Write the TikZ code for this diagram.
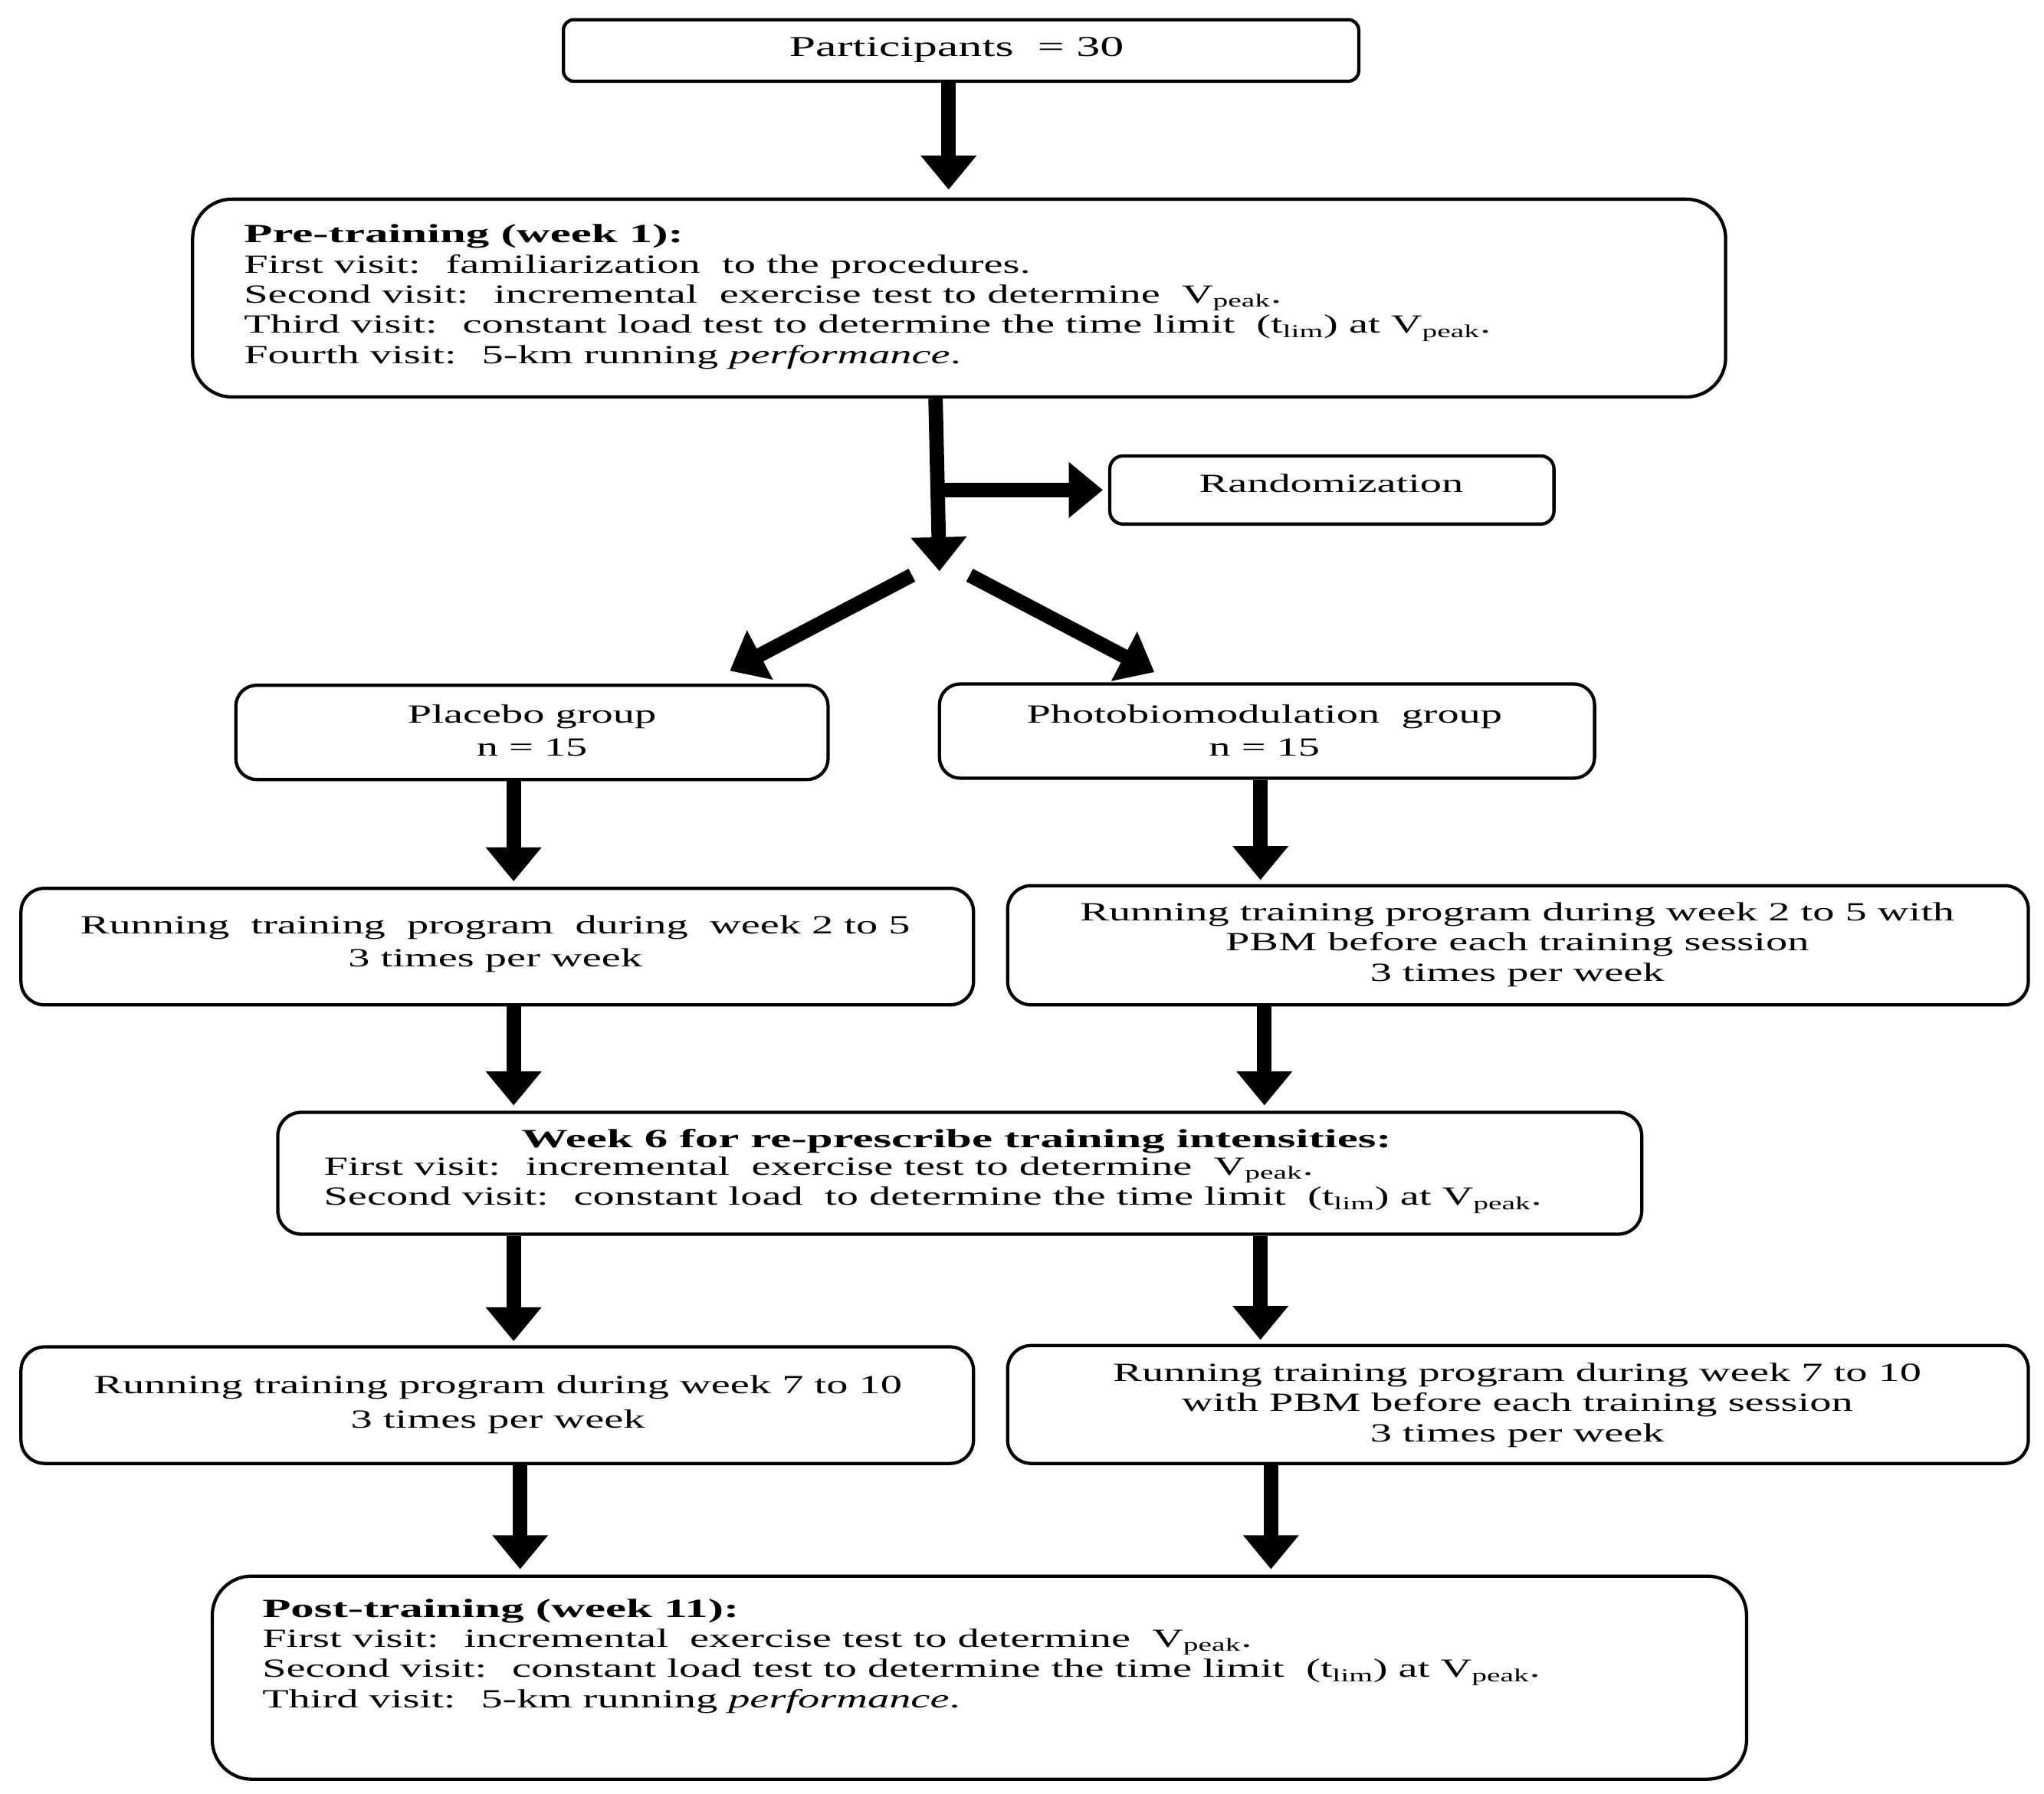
\documentclass[tikz,border=0pt]{standalone}
\usepackage{fontspec}
\setmainfont{Liberation Serif}[FakeStretch=1.65,BoldFeatures={FakeStretch=1.78}]
\usetikzlibrary{arrows.meta}
\tikzset{
  box/.style={draw, line width=2.5pt, rounded corners=#1, inner sep=0pt},
  box/.default=16pt,
  txt/.style={inner sep=0pt, font=\fontsize{20}{23}\selectfont},
  arr/.style={line width=11pt, -{Triangle[width=41pt,length=26pt]}},
}
\begin{document}
\begin{tikzpicture}[x=1pt,y=-1pt]
\useasboundingbox (0,0) rectangle (1560,1369);
% boxes
\node[box=8pt, minimum width=607pt, minimum height=47pt] (b1) at (733.5,38.5) {};
\node[box=30pt, minimum width=1170pt, minimum height=151pt] (b2) at (732,227.5) {};
\node[box=10pt, minimum width=339pt, minimum height=52pt] (rand) at (1016.5,374) {};
\node[box, minimum width=452pt, minimum height=72pt] (plac) at (406,559) {};
\node[box, minimum width=500pt, minimum height=72pt] (pbm) at (967,558) {};
\node[box=18pt, minimum width=727pt, minimum height=89pt] (r1l) at (379.5,722.5) {};
\node[box=18pt, minimum width=779pt, minimum height=91pt] (r1r) at (1158.5,721.5) {};
\node[box=18pt, minimum width=1041pt, minimum height=93pt] (w6) at (732.5,895.5) {};
\node[box=18pt, minimum width=727pt, minimum height=89pt] (r2l) at (379.5,1072.5) {};
\node[box=18pt, minimum width=779pt, minimum height=90pt] (r2r) at (1158.5,1072) {};
\node[box=30pt, minimum width=1171pt, minimum height=155pt] (post) at (747.5,1280.5) {};
% texts
\node[txt, font=\fontsize{22}{25}\selectfont] (t1) at (730,38) {Participants~ = 30};
\node[txt, anchor=west, align=left] (t2) at (186,226.5) {\textbf{Pre-training (week 1):}\\
First visit:~ familiarization~ to the procedures.\\
Second visit:~ incremental~ exercise test to determine~ V\textsubscript{peak}.\\
Third visit:~ constant load test to determine the time limit~ (t\textsubscript{lim}) at V\textsubscript{peak}.\\
Fourth visit:~ 5-km running \textit{performance}.};
\node[txt] (trand) at (1016,369) {Randomization};
\node[txt, align=center, font=\fontsize{20}{25}\selectfont] (tplac) at (406,557.5) {Placebo group\\ n = 15};
\node[txt, align=center, font=\fontsize{20}{25}\selectfont] (tpbm) at (965,557.5) {Photobiomodulation~ group\\ n = 15};
\node[txt, align=center, font=\fontsize{20}{25}\selectfont] (tr1l) at (378,720.5) {Running~ training~ program~ during~ week 2 to 5\\ 3 times per week};
\node[txt, align=center] (tr1r) at (1158,721) {Running training program during week 2 to 5 with\\ PBM before each training session\\ 3 times per week};
\node[txt] (tw6h) at (730,871) {\textbf{Week 6 for re-prescribe training intensities:}};
\node[txt, anchor=west, align=left] (tw6) at (247,904.5) {First visit:~ incremental~ exercise test to determine~ V\textsubscript{peak}.\\
Second visit:~ constant load~ to determine the time limit~ (t\textsubscript{lim}) at V\textsubscript{peak}.};
\node[txt, align=center, font=\fontsize{20}{26}\selectfont] (tr2l) at (380,1072) {Running training program during week 7 to 10\\ 3 times per week};
\node[txt, align=center] (tr2r) at (1158,1072.5) {Running training program during week 7 to 10\\ with PBM before each training session\\ 3 times per week};
\node[txt, anchor=west, align=left] (tpost) at (200,1264) {\textbf{Post-training (week 11):}\\
First visit:~ incremental~ exercise test to determine~ V\textsubscript{peak}.\\
Second visit:~ constant load test to determine the time limit~ (t\textsubscript{lim}) at V\textsubscript{peak}.\\
Third visit:~ 5-km running \textit{performance}.};
% free coordinates
\coordinate (split) at (717,436);
\coordinate (branch) at (716,374);
\coordinate (dl0) at (696,439);
\coordinate (dl1) at (557,512);
\coordinate (dr0) at (740,439);
\coordinate (dr1) at (881,513);
% arrows
\draw[arr] ([xshift=-9.5pt]b1.south) -- ([xshift=-8pt,yshift=6pt]b2.north);
\draw[arr] ([xshift=-18pt]b2.south) -- (split);
\draw[arr] (branch) -- ([xshift=-4pt]rand.west);
\draw[arr] (dl0) -- (dl1);
\draw[arr] (dr0) -- (dr1);
\draw[arr] ([xshift=-14pt]plac.south) -- ([xshift=12.5pt,yshift=4pt]r1l.north);
\draw[arr] ([xshift=-5pt]pbm.south) -- ([xshift=-196.5pt,yshift=3pt]r1r.north);
\draw[arr] ([xshift=12.5pt]r1l.south) -- ([xshift=-340.5pt,yshift=4pt]w6.north);
\draw[arr] ([xshift=-193.5pt]r1r.south) -- ([xshift=232.5pt,yshift=4pt]w6.north);
\draw[arr] ([xshift=-340.5pt]w6.south) -- ([xshift=12.5pt,yshift=3pt]r2l.north);
\draw[arr] ([xshift=229.5pt]w6.south) -- ([xshift=-196.5pt,yshift=3pt]r2r.north);
\draw[arr] ([xshift=17.5pt]r2l.south) -- ([xshift=-350.5pt,yshift=4pt]post.north);
\draw[arr] ([xshift=-188.5pt]r2r.south) -- ([xshift=222.5pt,yshift=4pt]post.north);
\end{tikzpicture}
\end{document}
